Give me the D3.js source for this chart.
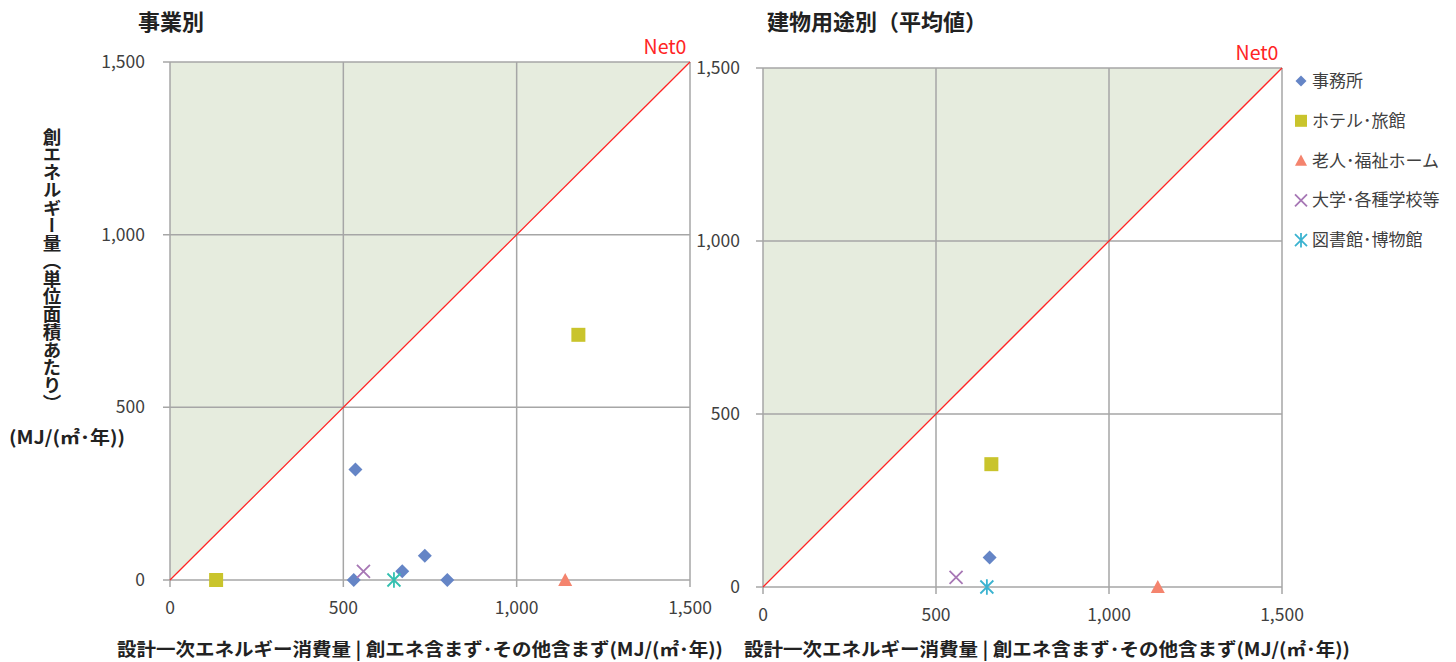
<!DOCTYPE html>
<html><head><meta charset="utf-8">
<script src="https://cdn.jsdelivr.net/npm/d3@7"></script>
<style>
html,body{margin:0;padding:0;background:#fff;}
svg text{font-family:"Noto Sans CJK JP","Noto Sans",sans-serif;}
</style></head>
<body><svg id="c" width="1456" height="662"></svg>
<script>
// ---- data ----
const seriesNames = ["事務所", "ホテル･旅館", "老人･福祉ホーム", "大学･各種学校等", "図書館･博物館"];
const tickValues = [0, 500, 1000, 1500];
const chartTitles = ["事業別", "建物用途別（平均値）"];
const xTitle = "設計一次エネルギー消費量 | 創エネ含まず･その他含まず(MJ/(㎡･年))";
const yTitleVertical = "創エネルギー量（単位面積あたり）";
const yTitleUnit = "(MJ/(㎡･年))";
const lineLabel = "Net0";

// left chart: 事業別  [x, y]
const left_office = [[535, 320], [530, 0], [670, 25], [735, 70], [800, 0]];
const left_hotel = [[133, 0], [1178, 710]];
const left_welfare = [[1140, 0]];
const left_school = [[558, 25]];
const left_library = [[646, 0]];
// right chart: 建物用途別（平均値）
const right_office = [[655, 85]];
const right_hotel = [[660, 355]];
const right_welfare = [[1141, 0]];
const right_school = [[558, 28]];
const right_library = [[647, 0]];

const colors = ["#6585c6", "#c9c42c", "#f4846e", "#a777b5", "#3bb3d0"];
const leftLibraryColor = "#33c0b0";

const svg = d3.select("#c");

function markerPath(type, size) {
  const s = size;
  if (type === 0) return `M0,${-s}L${s},0L0,${s}L${-s},0Z`;
  if (type === 1) return `M${-s},${-s}H${s}V${s}H${-s}Z`;
  if (type === 2) return `M0,${-s}L${s},${s*0.85}L${-s},${s*0.85}Z`;
  if (type === 3) return `M${-s},${-s}L${s},${s}M${s},${-s}L${-s},${s}`;
  if (type === 4) return `M${-s},${-s}L${s},${s}M${s},${-s}L${-s},${s}M0,${-s*1.2}V${s*1.2}`;
}

function drawMarker(g, type, color, x, y, size) {
  const p = g.append("path").attr("d", markerPath(type, size)).attr("transform", `translate(${x},${y})`);
  if (type >= 3) p.attr("fill", "none").attr("stroke", color).attr("stroke-width", 1.8);
  else p.attr("fill", color);
}

function drawChart(cfg) {
  const x = d3.scaleLinear().domain([0, 1500]).range([cfg.x0, cfg.x1]);
  const y = d3.scaleLinear().domain([0, 1500]).range([cfg.y1, cfg.y0]);
  const g = svg.append("g");
  g.append("path")
    .attr("d", d3.line()([[x(0), y(0)], [x(0), y(1500)], [x(1500), y(1500)]]) + "Z")
    .attr("fill", "#e6ecde");
  g.selectAll(".gx").data(tickValues).enter().append("line")
    .attr("x1", d => x(d)).attr("x2", d => x(d)).attr("y1", y(1500)).attr("y2", y(0) + 7)
    .attr("stroke", "#a6a6a6").attr("stroke-width", 1.5);
  g.selectAll(".gy").data(tickValues).enter().append("line")
    .attr("x1", x(0) - 7).attr("x2", x(1500)).attr("y1", d => y(d)).attr("y2", d => y(d))
    .attr("stroke", "#a6a6a6").attr("stroke-width", 1.5);
  g.append("line").attr("x1", x(0)).attr("y1", y(0)).attr("x2", x(1500)).attr("y2", y(1500))
    .attr("stroke", "#ff2424").attr("stroke-width", 1.3);
  g.selectAll(".tx").data(tickValues).enter().append("text")
    .attr("x", d => x(d)).attr("y", y(0) + 34).attr("text-anchor", "middle")
    .attr("font-family", "'Noto Sans',sans-serif")
    .attr("font-size", 17.5).attr("fill", "#404040").text(d => d3.format(",")(d));
  g.selectAll(".ty").data(tickValues).enter().append("text")
    .attr("x", cfg.yLabelX).attr("y", d => y(d) + 6).attr("text-anchor", "end")
    .attr("font-family", "'Noto Sans',sans-serif")
    .attr("font-size", 17.5).attr("fill", "#404040").text(d => d3.format(",")(d));
  g.append("text").attr("x", x(1500) - 25).attr("y", y(1500) - 8).attr("text-anchor", "middle")
    .attr("font-family", "'Noto Sans',sans-serif")
    .attr("font-size", 19.5).attr("fill", "#ff2424").text(lineLabel);
  g.append("text").attr("x", cfg.titleX).attr("y", 30).attr("font-size", 22).attr("font-weight", "bold")
    .attr("fill", "#222").text(cfg.title);
  g.append("text").attr("x", cfg.xTitleX).attr("y", 656).attr("font-size", 18).attr("font-weight", "bold")
    .attr("fill", "#222").attr("textLength", 606).attr("lengthAdjust", "spacingAndGlyphs").text(xTitle);
  cfg.series.forEach((pts, i) => {
    const col = (i === 4 && cfg.libColor) ? cfg.libColor : colors[i];
    pts.forEach(p => drawMarker(g, i, col, x(p[0]), y(p[1]), i === 3 || i === 4 ? 6.5 : 7));
  });
}

drawChart({x0: 170, x1: 690, y0: 62, y1: 580, yLabelX: 145, title: chartTitles[0], titleX: 138, xTitleX: 117,
  series: [left_office, left_hotel, left_welfare, left_school, left_library], libColor: leftLibraryColor});
drawChart({x0: 763, x1: 1282, y0: 68, y1: 587, yLabelX: 740, title: chartTitles[1], titleX: 767, xTitleX: 744,
  series: [right_office, right_hotel, right_welfare, right_school, right_library]});

svg.append("text").attr("x", 52).attr("y", 128)
  .attr("style", "writing-mode: vertical-rl; text-orientation: upright;")
  .attr("font-size", 18.5).attr("font-weight", "bold").attr("fill", "#222")
  .attr("textLength", 284).attr("lengthAdjust", "spacingAndGlyphs")
  .text(yTitleVertical);
svg.append("text").attr("x", 9).attr("y", 444).attr("font-size", 18).attr("font-weight", "bold")
  .attr("fill", "#222").attr("textLength", 116).attr("lengthAdjust", "spacingAndGlyphs").text(yTitleUnit);

const lg = svg.append("g");
seriesNames.forEach((n, i) => {
  const yy = 81 + i * 39.8;
  drawMarker(lg, i, colors[i], 1301, yy, i === 0 ? 5.5 : 6);
  lg.append("text").attr("x", 1312).attr("y", yy + 6).attr("font-size", 17).attr("fill", "#404040").text(n);
});
</script></body></html>
